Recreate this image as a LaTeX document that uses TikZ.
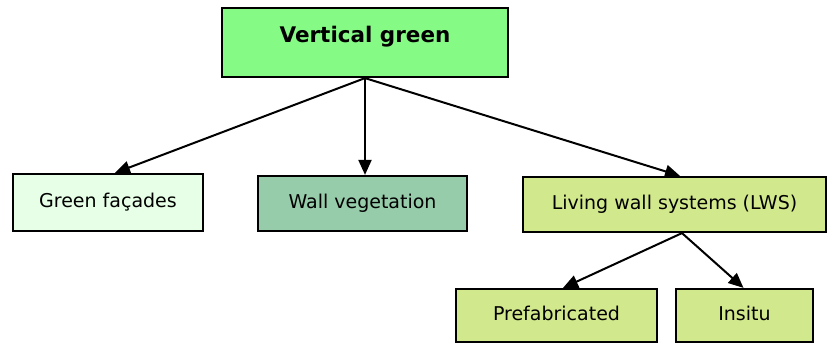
\documentclass[tikz,border=0pt]{standalone}
\usepackage{fontspec}
\setmainfont{DejaVu Sans}
\usetikzlibrary{arrows.meta}
\definecolor{vgfill}{HTML}{85FA85}
\definecolor{gffill}{HTML}{E6FFE6}
\definecolor{wvfill}{HTML}{96CCAA}
\definecolor{lwfill}{HTML}{D2E88C}
\begin{document}
\begin{tikzpicture}[x=1pt,y=-1pt,
  box/.style={draw=black,line width=2.2pt,inner sep=0pt,font=\fontsize{19}{21}\selectfont,text height=13.5pt,text depth=4pt},
  conn/.style={line width=2pt,-{Triangle[length=15pt,width=13pt]}}]
\useasboundingbox (0,0) rectangle (828,343);
\node[box,fill=vgfill,minimum width=286pt,minimum height=69pt,font=\fontsize{21.5}{24}\selectfont\bfseries,text height=15pt,text depth=15pt] (vg) at (365,42.5) {Vertical green};
\node[box,fill=gffill,minimum width=190pt,minimum height=57pt] (gf) at (108,202.5) {Green façades};
\node[box,fill=wvfill,minimum width=209pt,minimum height=55pt] (wv) at (362.5,203.5) {Wall vegetation};
\node[box,fill=lwfill,minimum width=303pt,minimum height=55pt] (lw) at (674.5,204.5) {Living wall systems (LWS)};
\node[box,fill=lwfill,minimum width=201pt,minimum height=53pt] (pf) at (556.5,315.5) {Prefabricated};
\node[box,fill=lwfill,minimum width=137pt,minimum height=53pt] (is) at (744.5,315.5) {Insitu};
\draw[conn] (vg.south) -- ([xshift=7pt]gf.north);
\draw[conn] (vg.south) -- (vg.south |- wv.north);
\draw[conn] (vg.south) -- ([xshift=5.5pt]lw.north);
\draw[conn] ([xshift=7.5pt]lw.south) -- ([xshift=6.5pt]pf.north);
\draw[conn] ([xshift=7.5pt]lw.south) -- ([xshift=-1pt]is.north);
\end{tikzpicture}
\end{document}
